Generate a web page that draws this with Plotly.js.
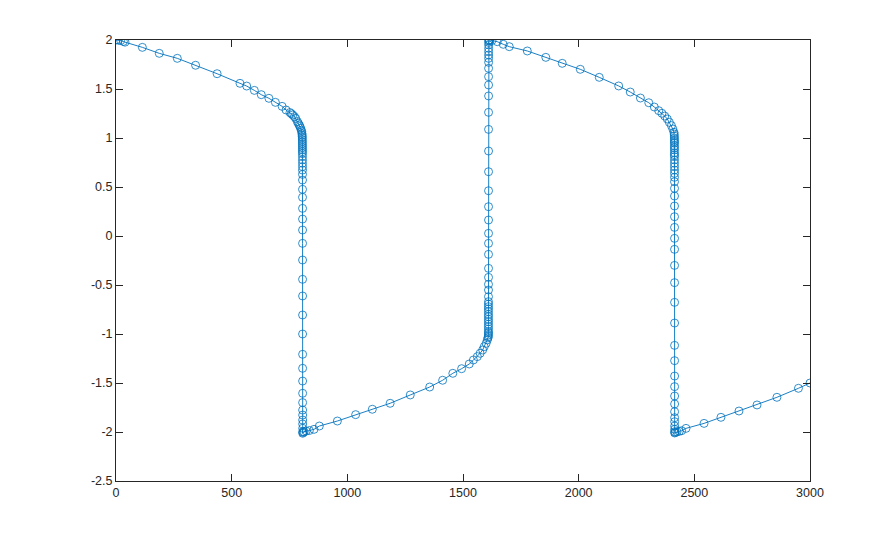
<!DOCTYPE html>
<html>
<head>
<meta charset="utf-8">
<script src="https://cdn.plot.ly/plotly-3.0.1.min.js"></script>
<style>html,body{margin:0;padding:0;background:#fff;}#chart{width:895px;height:540px;}</style>
</head>
<body>
<div id="chart"></div>
<script>
// Branch 1: slow descent along the upper branch
const t1 = [0, 10, 20, 32, 39, 114, 187, 265, 344, 437, 536, 565, 598, 628, 661, 689, 718, 735, 752, 758, 764, 771, 777, 784, 788, 792, 795, 798, 801, 803];
const y1 = [2.0, 1.998, 1.994, 1.985, 1.978, 1.925, 1.864, 1.813, 1.742, 1.656, 1.558, 1.53, 1.486, 1.442, 1.405, 1.364, 1.323, 1.286, 1.26, 1.248, 1.235, 1.218, 1.20, 1.167, 1.15, 1.133, 1.117, 1.10, 1.08, 1.064];
// Jump 1: fast drop near t = 806
const t2 = [804, 804.5, 805, 805.3, 805.5, 805.6, 805.7, 805.8, 805.9, 806, 806, 806, 806.1, 806.1, 806.1, 806.2, 806.2, 806.2, 806.3, 806.3, 806.3, 806.4, 806.4, 806.4, 806.5, 806.5, 806.5, 806.6, 806.6, 806.6, 806.7, 806.7, 806.7, 806.8, 806.8, 806.8, 806.9, 806.9, 806.9, 807, 807, 807];
const y2 = [1.045, 1.03, 1.015, 1.0, 0.98, 0.96, 0.94, 0.92, 0.90, 0.88, 0.86, 0.84, 0.81, 0.776, 0.742, 0.708, 0.673, 0.629, 0.571, 0.476, 0.395, 0.282, 0.173, 0.061, -0.075, -0.245, -0.442, -0.612, -0.806, -1.0, -1.207, -1.35, -1.48, -1.605, -1.70, -1.776, -1.827, -1.878, -1.918, -1.962, -1.997, -2.013];
// Branch 2: slow rise along the lower branch
const t3 = [809, 813, 822, 836, 856, 879, 957, 1036, 1108, 1185, 1272, 1356, 1412, 1456, 1494, 1527, 1545, 1562, 1574, 1585, 1592, 1600, 1605, 1608, 1609.5];
const y3 = [-2.005, -1.998, -1.99, -1.985, -1.973, -1.939, -1.888, -1.823, -1.768, -1.707, -1.622, -1.541, -1.472, -1.401, -1.354, -1.306, -1.265, -1.231, -1.197, -1.163, -1.129, -1.095, -1.061, -1.04, -1.027];
// Jump 2: fast rise near t = 1610
const t4 = [1610, 1610, 1610, 1610, 1610, 1610, 1610, 1610, 1610, 1610, 1610, 1610, 1610, 1610, 1610.2, 1610.2, 1610.2, 1610.2, 1610.3, 1610.3, 1610.3, 1610.3, 1610.4, 1610.4, 1610.4, 1610.4, 1610.5, 1610.5, 1610.5, 1610.5, 1610.6, 1610.6, 1610.6, 1610.6, 1610.7, 1610.7, 1610.7, 1610.8, 1610.8, 1610.9, 1611, 1611.5, 1612];
const y4 = [-1.01, -0.99, -0.977, -0.95, -0.925, -0.9, -0.874, -0.85, -0.823, -0.8, -0.772, -0.745, -0.721, -0.695, -0.67, -0.619, -0.551, -0.493, -0.422, -0.33, -0.187, -0.075, 0.027, 0.163, 0.299, 0.462, 0.656, 0.867, 1.088, 1.262, 1.429, 1.541, 1.626, 1.711, 1.772, 1.813, 1.847, 1.881, 1.915, 1.95, 1.975, 1.99, 2.0];
// Branch 3: slow descent along the upper branch
const t5 = [1615, 1625, 1648, 1674, 1700, 1778, 1858, 1929, 2007, 2089, 2173, 2223, 2267, 2303, 2327, 2346, 2360, 2372, 2383, 2392, 2401, 2407, 2412];
const y5 = [2.0, 1.995, 1.983, 1.956, 1.932, 1.888, 1.823, 1.762, 1.701, 1.619, 1.531, 1.469, 1.408, 1.36, 1.316, 1.279, 1.252, 1.224, 1.194, 1.16, 1.126, 1.092, 1.058];
// Jump 3: fast drop near t = 2414
const t6 = [2413, 2413.5, 2413.8, 2414, 2414, 2414, 2414, 2414, 2414, 2414, 2414, 2414.2, 2414.2, 2414.2, 2414.2, 2414.3, 2414.3, 2414.3, 2414.3, 2414.4, 2414.4, 2414.4, 2414.4, 2414.5, 2414.5, 2414.5, 2414.5, 2414.6, 2414.6, 2414.6, 2414.6, 2414.7, 2414.7, 2414.7, 2414.8, 2414.8, 2414.8, 2414.9, 2414.9, 2415, 2415, 2415, 2415];
const y6 = [1.04, 1.02, 1.0, 0.98, 0.96, 0.946, 0.92, 0.9, 0.878, 0.85, 0.83, 0.81, 0.776, 0.742, 0.708, 0.673, 0.639, 0.599, 0.554, 0.486, 0.408, 0.306, 0.197, 0.088, -0.024, -0.136, -0.30, -0.476, -0.677, -0.888, -1.116, -1.272, -1.429, -1.537, -1.633, -1.714, -1.793, -1.854, -1.895, -1.939, -1.973, -1.997, -2.01];
// Branch 4: slow rise along the lower branch
const t7 = [2418, 2425, 2435, 2445, 2464, 2542, 2615, 2693, 2771, 2857, 2950, 3000];
const y7 = [-2.005, -1.998, -1.993, -1.987, -1.963, -1.912, -1.85, -1.786, -1.724, -1.646, -1.554, -1.50];

const xTicks = [0, 500, 1000, 1500, 2000, 2500, 3000];
const xTickText = ["0", "500", "1000", "1500", "2000", "2500", "3000"];
const yTicks = [-2.5, -2, -1.5, -1, -0.5, 0, 0.5, 1, 1.5, 2];
const yTickText = ["-2.5", "-2", "-1.5", "-1", "-0.5", "0", "0.5", "1", "1.5", "2"];

const tAll = [].concat(t1, t2, t3, t4, t5, t6, t7);
const yAll = [].concat(y1, y2, y3, y4, y5, y6, y7);

const blue = '#0072BD';
const axisColor = '#262626';
const font = {family: 'Liberation Sans, Arial, Helvetica, sans-serif', size: 12.5, color: axisColor};

const trace = {
  x: tAll, y: yAll, type: 'scatter', mode: 'lines+markers',
  line: {color: blue, width: 0.9},
  marker: {symbol: 'circle-open', size: 8, color: blue, line: {width: 0.8, color: blue}},
  hoverinfo: 'none'
};

const axisBase = {
  showgrid: false, zeroline: false, showline: true, linecolor: axisColor, linewidth: 1,
  ticks: 'inside', ticklen: 7, tickwidth: 1, tickcolor: axisColor, mirror: 'ticks',
  tickmode: 'array', tickfont: font
};

const layout = {
  width: 895, height: 540,
  margin: {l: 116, r: 85, t: 40, b: 59, pad: 0},
  paper_bgcolor: '#ffffff', plot_bgcolor: '#ffffff',
  showlegend: false,
  font: font,
  xaxis: Object.assign({}, axisBase, {range: [0, 3000], tickvals: xTicks, ticktext: xTickText}),
  yaxis: Object.assign({}, axisBase, {range: [-2.5, 2], tickvals: yTicks, ticktext: yTickText})
};

Plotly.newPlot('chart', [trace], layout, {staticPlot: true, displayModeBar: false});
</script>
</body>
</html>
